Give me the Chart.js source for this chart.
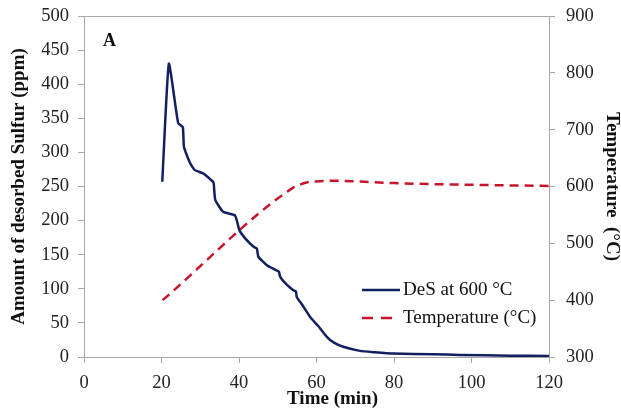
<!DOCTYPE html>
<html>
<head>
<meta charset="utf-8">
<script src="https://cdn.jsdelivr.net/npm/chart.js@4"></script>
<style>
    html, body { margin: 0; padding: 0; background: #fff; }
    #wrap { width: 621px; height: 417px; }
</style>
</head>
<body>
<div id="wrap"><canvas id="desChart" width="621" height="417"></canvas></div>
<script>
// desorbed sulfur curve (time in min, ppm)
const desTime = [20.2, 21.9, 24.3, 25.5, 25.8, 27.4, 28.6, 30.8, 33.4, 33.6, 33.9, 35.9, 38.9, 39.4, 40.1, 41.6, 43.7, 44.6, 45.0, 47.1, 49.3, 50.3, 50.6, 52, 54, 54.7, 54.9, 56.5, 58.3, 60.5, 62.6, 64.5, 66.9, 71.2, 75, 79.8, 90, 97, 110, 120];
const desPpm = [257, 430, 343, 337, 308, 284, 274, 269, 256, 245, 230, 213, 208, 201, 186, 174, 162, 159, 147, 135, 128, 125, 118, 108, 98, 96, 88, 75, 59, 45, 30, 21, 15, 9, 7, 5, 4, 3, 2, 1.5];

// temperature curve (time in min, °C)
const tempTime = [20.3, 54, 55, 57.4, 60, 65.2, 70, 79.8, 100, 120];
const tempC = [400, 598, 601, 607, 609, 610, 609, 606, 603, 601];

const xTicks = [0, 20, 40, 60, 80, 100, 120];
const leftTicks = [0, 50, 100, 150, 200, 250, 300, 350, 400, 450, 500];
const rightTicks = [300, 400, 500, 600, 700, 800, 900];

const FONT = "'Liberation Serif', 'Times New Roman', serif";
const AXIS_GREY = "#a6a6a6";
const X_TITLE = "Time (min)";

const toPoints = (xs, ys) => xs.map((x, i) => ({ x: x, y: ys[i] }));

// fixed axis box sizes, no extra room for the end labels
const fitAxis = (size) => (axis) => {
    if (axis.isHorizontal()) {
        axis.height = size;
    } else {
        axis.width = size;
    }
    axis.paddingTop = 0;
    axis.paddingBottom = 0;
    axis.paddingLeft = 0;
    axis.paddingRight = 0;
};

// box top line, x title, "A" label and legend inside the plot
const decorations = {
    id: "decorations",
    afterDraw(chart) {
        const ctx = chart.ctx;
        const area = chart.chartArea;
        ctx.save();

        ctx.strokeStyle = AXIS_GREY;
        ctx.lineWidth = 1;
        ctx.beginPath();
        ctx.moveTo(area.left, area.top + 0.5);
        ctx.lineTo(area.right, area.top + 0.5);
        ctx.stroke();

        ctx.fillStyle = "#111";
        ctx.textBaseline = "middle";
        ctx.textAlign = "center";
        ctx.font = "bold 19px " + FONT;
        ctx.fillText(X_TITLE, (area.left + area.right) / 2 + 16, area.bottom + 42);

        ctx.textAlign = "left";
        ctx.font = "bold 18px " + FONT;
        ctx.fillText("A", area.left + 19, area.top + 25);

        // legend
        const sets = chart.data.datasets;
        const lx = area.left + 278;
        const ly = area.top + 274;
        ctx.font = "19px " + FONT;
        sets.forEach((ds, i) => {
            const y = ly + i * 28;
            ctx.strokeStyle = ds.borderColor;
            ctx.lineWidth = 2.5;
            ctx.setLineDash(ds.borderDash ? [11, 8] : []);
            ctx.beginPath();
            ctx.moveTo(lx, y);
            ctx.lineTo(lx + 38, y);
            ctx.stroke();
            ctx.setLineDash([]);
            ctx.fillStyle = "#111";
            ctx.fillText(ds.label, lx + 41, y);
        });
        ctx.restore();
    }
};

const ctx = document.getElementById("desChart").getContext("2d");

new Chart(ctx, {
    type: "line",
    data: {
        datasets: [
            {
                label: "DeS at 600 °C",
                data: toPoints(desTime, desPpm),
                yAxisID: "y",
                borderColor: "#13205f",
                borderWidth: 2.5,
                pointRadius: 0,
                tension: 0.15,
                fill: false
            },
            {
                label: "Temperature (°C)",
                data: toPoints(tempTime, tempC),
                yAxisID: "y2",
                borderColor: "#c8142a",
                borderWidth: 2.5,
                borderDash: [9, 6],
                pointRadius: 0,
                tension: 0.3,
                cubicInterpolationMode: "monotone",
                fill: false
            }
        ]
    },
    options: {
        responsive: false,
        animation: false,
        layout: { padding: { top: 16, left: 0, right: 0, bottom: 0 } },
        plugins: {
            legend: { display: false },
            tooltip: { enabled: false }
        },
        scales: {
            x: {
                type: "linear",
                min: 0,
                max: 120,
                afterBuildTicks: (axis) => { axis.ticks = xTicks.map(v => ({ value: v })); },
                afterFit: fitAxis(60),
                border: { color: AXIS_GREY },
                grid: { drawOnChartArea: false, tickLength: 6, color: AXIS_GREY },
                ticks: { color: "#222", font: { family: FONT, size: 18.5 }, padding: 9, maxRotation: 0 },
                title: { display: false }
            },
            y: {
                position: "left",
                min: 0,
                max: 500,
                afterBuildTicks: (axis) => { axis.ticks = leftTicks.map(v => ({ value: v })); },
                afterFit: fitAxis(84),
                border: { color: AXIS_GREY },
                grid: { drawOnChartArea: false, tickLength: 6, color: AXIS_GREY },
                ticks: { color: "#222", font: { family: FONT, size: 18.5 }, padding: 9 },
                title: {
                    display: true,
                    text: "Amount of desorbed Sulfur (ppm)",
                    color: "#111",
                    font: { family: FONT, size: 19, weight: "bold" },
                    padding: { top: 8, bottom: 0 }
                }
            },
            y2: {
                position: "right",
                min: 300,
                max: 900,
                afterBuildTicks: (axis) => { axis.ticks = rightTicks.map(v => ({ value: v })); },
                afterFit: fitAxis(72),
                border: { color: AXIS_GREY },
                grid: { drawOnChartArea: false, tickLength: 6, color: AXIS_GREY },
                ticks: { color: "#222", font: { family: FONT, size: 18.5 }, padding: 11 },
                title: {
                    display: true,
                    text: "Temperature  (°C)",
                    color: "#111",
                    font: { family: FONT, size: 19, weight: "bold" },
                    padding: { top: -2, bottom: 0 }
                }
            }
        }
    },
    plugins: [decorations]
});
</script>
</body>
</html>
